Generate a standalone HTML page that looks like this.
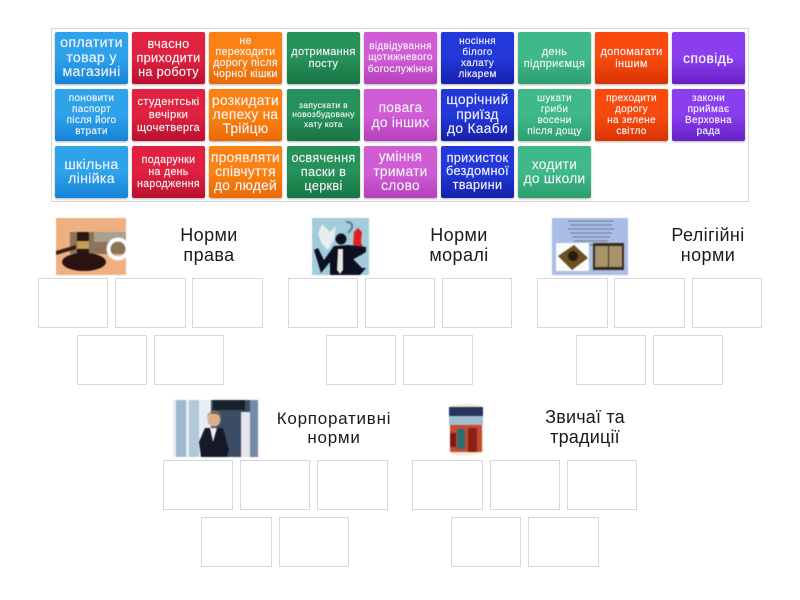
<!DOCTYPE html>
<html lang="uk"><head><meta charset="utf-8"><style>
html,body{margin:0;padding:0;background:#fff}
body{width:800px;height:600px;position:relative;overflow:hidden;font-family:"Liberation Sans",sans-serif}
.box{position:absolute;left:51px;top:28px;width:696px;height:172px;border:1px solid #d8d8d8;box-sizing:content-box}
.t{position:absolute;width:73px;height:52px;border-radius:2px;display:flex;align-items:center;justify-content:center;text-align:center;color:#f2f2f6;box-shadow:0 1px 2px rgba(0,0,0,.3);white-space:nowrap;letter-spacing:.3px;-webkit-text-stroke:.15px #f2f2f6}
.b{background:linear-gradient(#2ea3ea 50%,#1683d6)}
.r{background:linear-gradient(#e0213f 50%,#b91030)}
.o{background:linear-gradient(#fb8212 50%,#e96a06)}
.g{background:linear-gradient(#26915a 50%,#177543)}
.p{background:linear-gradient(#d05cd6 50%,#b540bd)}
.n{background:linear-gradient(#2238d8 50%,#1520a8)}
.m{background:linear-gradient(#3fb98a 50%,#2d9e70)}
.e{background:linear-gradient(#f84a0e 50%,#d93404)}
.v{background:linear-gradient(#8a3ef0 50%,#6620c4)}
.s{position:absolute;width:70px;height:50px;border:1px solid #d8d8d8;box-sizing:border-box}
.h{position:absolute;text-align:center;font-size:18px;line-height:20px;color:#1a1a1a;white-space:nowrap;letter-spacing:.4px}
svg{position:absolute;filter:blur(.5px)}
</style></head><body>
<div class="box"></div>
<div class="t b" style="left:55px;top:32px;font-size:14.2px;line-height:14.5px">оплатити<br>товар у<br>магазині</div>
<div class="t r" style="left:132px;top:32px;font-size:12.7px;line-height:14px">вчасно<br>приходити<br>на роботу</div>
<div class="t o" style="left:209px;top:32px;font-size:10.6px;line-height:11px">не<br>переходити<br>дорогу після<br>чорної кішки</div>
<div class="t g" style="left:287px;top:32px;font-size:11px;line-height:12px">дотримання<br>посту</div>
<div class="t p" style="left:364px;top:32px;font-size:10px;line-height:11.5px">відвідування<br>щотижневого<br>богослужіння</div>
<div class="t n" style="left:441px;top:32px;font-size:10px;line-height:11px">носіння<br>білого<br>халату<br>лікарем</div>
<div class="t m" style="left:518px;top:32px;font-size:11px;line-height:12px">день<br>підприємця</div>
<div class="t e" style="left:595px;top:32px;font-size:11px;line-height:12px">допомагати<br>іншим</div>
<div class="t v" style="left:672px;top:32px;font-size:13.7px;letter-spacing:.5px;-webkit-text-stroke:.3px #f2f2f6">сповідь</div>

<div class="t b" style="left:55px;top:89px;font-size:10px;line-height:11px">поновити<br>паспорт<br>після його<br>втрати</div>
<div class="t r" style="left:132px;top:89px;font-size:11.2px;line-height:13px">студентські<br>вечірки<br>щочетверга</div>
<div class="t o" style="left:209px;top:89px;font-size:13.7px;line-height:14px">розкидати<br>лепеху на<br>Трійцю</div>
<div class="t g" style="left:287px;top:89px;font-size:8.5px;line-height:9.5px">запускати в<br>новозбудовану<br>хату кота</div>
<div class="t p" style="left:364px;top:89px;font-size:13.7px;line-height:15px">повага<br>до інших</div>
<div class="t n" style="left:441px;top:89px;font-size:13.8px;line-height:14.5px">щорічний<br>приїзд<br>до Кааби</div>
<div class="t m" style="left:518px;top:89px;font-size:10px;line-height:11px">шукати<br>гриби<br>восени<br>після дощу</div>
<div class="t e" style="left:595px;top:89px;font-size:10px;line-height:11px">преходити<br>дорогу<br>на зелене<br>світло</div>
<div class="t v" style="left:672px;top:89px;font-size:10px;line-height:11px">закони<br>приймає<br>Верховна<br>рада</div>

<div class="t b" style="left:55px;top:146px;font-size:14.2px;line-height:14.5px">шкільна<br>лінійка</div>
<div class="t r" style="left:132px;top:146px;font-size:10.6px;line-height:12px">подарунки<br>на день<br>народження</div>
<div class="t o" style="left:209px;top:146px;font-size:13.7px;line-height:14px">проявляти<br>співчуття<br>до людей</div>
<div class="t g" style="left:287px;top:146px;font-size:12.7px;line-height:14px">освячення<br>паски в<br>церкві</div>
<div class="t p" style="left:364px;top:146px;font-size:13.7px;line-height:14.5px">уміння<br>тримати<br>слово</div>
<div class="t n" style="left:441px;top:146px;font-size:12.7px;line-height:13.5px">прихисток<br>бездомної<br>тварини</div>
<div class="t m" style="left:518px;top:146px;font-size:13.7px;line-height:14.5px">ходити<br>до школи</div>

<svg style="left:56px;top:218px" width="70" height="57" viewBox="0 0 70 57"><rect width="70" height="57" fill="#eeb080"/><rect x="14" y="14" width="56" height="22" fill="#8a7358"/><rect x="38" y="14" width="32" height="10" fill="#a8a090"/><path d="M0 33 L20 27 L20 31 L0 37Z" fill="#3a1c16"/><rect x="21" y="14" width="12" height="27" rx="2" fill="#2e1512"/><rect x="21" y="23" width="12" height="8" fill="#c0a050"/><ellipse cx="28" cy="44" rx="22" ry="9" fill="#2a1210"/><circle cx="62" cy="31" r="9.5" fill="none" stroke="#fff" stroke-width="4"/></svg>
<div class="h" style="left:170px;top:225px;width:78px">Норми<br>права</div>
<div class="s" style="left:38px;top:278px"></div><div class="s" style="left:115px;top:278px;width:71px"></div><div class="s" style="left:192px;top:278px;width:71px"></div>
<div class="s" style="left:77px;top:335px"></div><div class="s" style="left:154px;top:335px"></div>

<svg style="left:312px;top:218px" width="57" height="57" viewBox="0 0 57 57"><rect width="57" height="57" fill="#a4cbdb"/><path d="M10 6 L18 14 L24 8 L22 22 L16 32 L10 26 L6 16Z" fill="#e8eef0"/><path d="M34 4 q7 0 6 6 q-2 3-4 5" fill="none" stroke="#5a7c90" stroke-width="2"/><path d="M42 14 l4-4 4 4 -1 10 3 8 -3 6 -3-6 -3 6 -2-8Z" fill="#e02020"/><circle cx="29" cy="21" r="5.5" fill="#0c1020"/><path d="M2 32 L9 55 L18 44 L18 57 L40 57 L40 42 L54 34 L54 29 L36 27 L22 28 L12 42 L6 30Z" fill="#0c1020"/><path d="M26 31 L31 31 L31 52 L28 56 L25 52Z" fill="#e8e8e0"/><path d="M40 40 L50 50 L54 50 L48 57 L40 57Z" fill="#0c1020"/></svg>
<div class="h" style="left:420px;top:225px;width:78px">Норми<br>моралі</div>
<div class="s" style="left:288px;top:278px"></div><div class="s" style="left:365px;top:278px"></div><div class="s" style="left:442px;top:278px"></div>
<div class="s" style="left:326px;top:335px"></div><div class="s" style="left:403px;top:335px"></div>

<svg style="left:552px;top:218px" width="76" height="57" viewBox="0 0 76 57"><rect width="76" height="57" fill="#a9bde6"/><g stroke="#6d7a94" stroke-width="1"><path d="M16 3H62M18 7H60M16 11H62M18 15H60M20 19H58M22 23H56M24 27H54" /></g><rect x="4" y="25" width="33" height="28" fill="#fbfbfb"/><path d="M6 38 L22 27 L36 40 L20 52Z" fill="#6a5020"/><circle cx="21" cy="38" r="5" fill="#2a1a10"/><rect x="41" y="25" width="31" height="27" fill="#3a2c1c"/><rect x="43" y="28" width="13" height="21" fill="#a8946a"/><rect x="57" y="28" width="13" height="21" fill="#a8946a"/></svg>
<div class="h" style="left:665px;top:225px;width:86px">Релігійні<br>норми</div>
<div class="s" style="left:537px;top:278px;width:71px"></div><div class="s" style="left:614px;top:278px;width:71px"></div><div class="s" style="left:692px;top:278px"></div>
<div class="s" style="left:576px;top:335px"></div><div class="s" style="left:653px;top:335px"></div>

<svg style="left:173px;top:400px" width="85" height="57" viewBox="0 0 85 57"><rect width="85" height="57" fill="#e6edf4"/><rect x="3" y="0" width="10" height="57" fill="#9fb6d0"/><rect x="16" y="0" width="10" height="57" fill="#b4c8dc"/><rect x="38" y="0" width="47" height="57" fill="#3d4c66"/><rect x="40" y="0" width="32" height="10" fill="#18202c"/><rect x="68" y="12" width="9" height="45" fill="#e4e6ea"/><rect x="77" y="0" width="8" height="57" fill="#748aa6"/><circle cx="41" cy="20" r="6.5" fill="#dcae8c"/><path d="M34 18 q7-12 14 0 l-1-4 q-6-6-12 0Z" fill="#b88040"/><path d="M26 42 L32 28 L50 28 L56 50 L54 57 L28 57Z" fill="#15192a"/><path d="M37 28 L44 28 L40 42Z" fill="#eee"/></svg>
<div class="h" style="left:272px;top:409px;width:124px;font-size:17px;line-height:19px;letter-spacing:.75px">Корпоративні<br>норми</div>
<div class="s" style="left:163px;top:460px"></div><div class="s" style="left:240px;top:460px"></div><div class="s" style="left:317px;top:460px;width:71px"></div>
<div class="s" style="left:201px;top:517px;width:71px"></div><div class="s" style="left:279px;top:517px"></div>

<svg style="left:447px;top:401px" width="38" height="56" viewBox="0 0 38 56"><path d="M3 5 q16-4 32 0 l1 46 q-16 6-32 2Z" fill="#f3e8d0"/><rect x="2" y="6" width="34" height="9" fill="#24365e"/><rect x="2" y="15" width="34" height="9" fill="#9fc0cc"/><rect x="3" y="24" width="32" height="27" fill="#c84a30"/><rect x="10" y="28" width="8" height="20" fill="#2f6e6e"/><rect x="21" y="27" width="9" height="24" fill="#8a2018"/><rect x="3" y="32" width="6" height="14" fill="#7c1818"/></svg>
<div class="h" style="left:537px;top:407px;width:96px;letter-spacing:.2px">Звичаї та<br>традиції</div>
<div class="s" style="left:412px;top:460px;width:71px"></div><div class="s" style="left:490px;top:460px"></div><div class="s" style="left:567px;top:460px"></div>
<div class="s" style="left:451px;top:517px"></div><div class="s" style="left:528px;top:517px;width:71px"></div>
</body></html>
